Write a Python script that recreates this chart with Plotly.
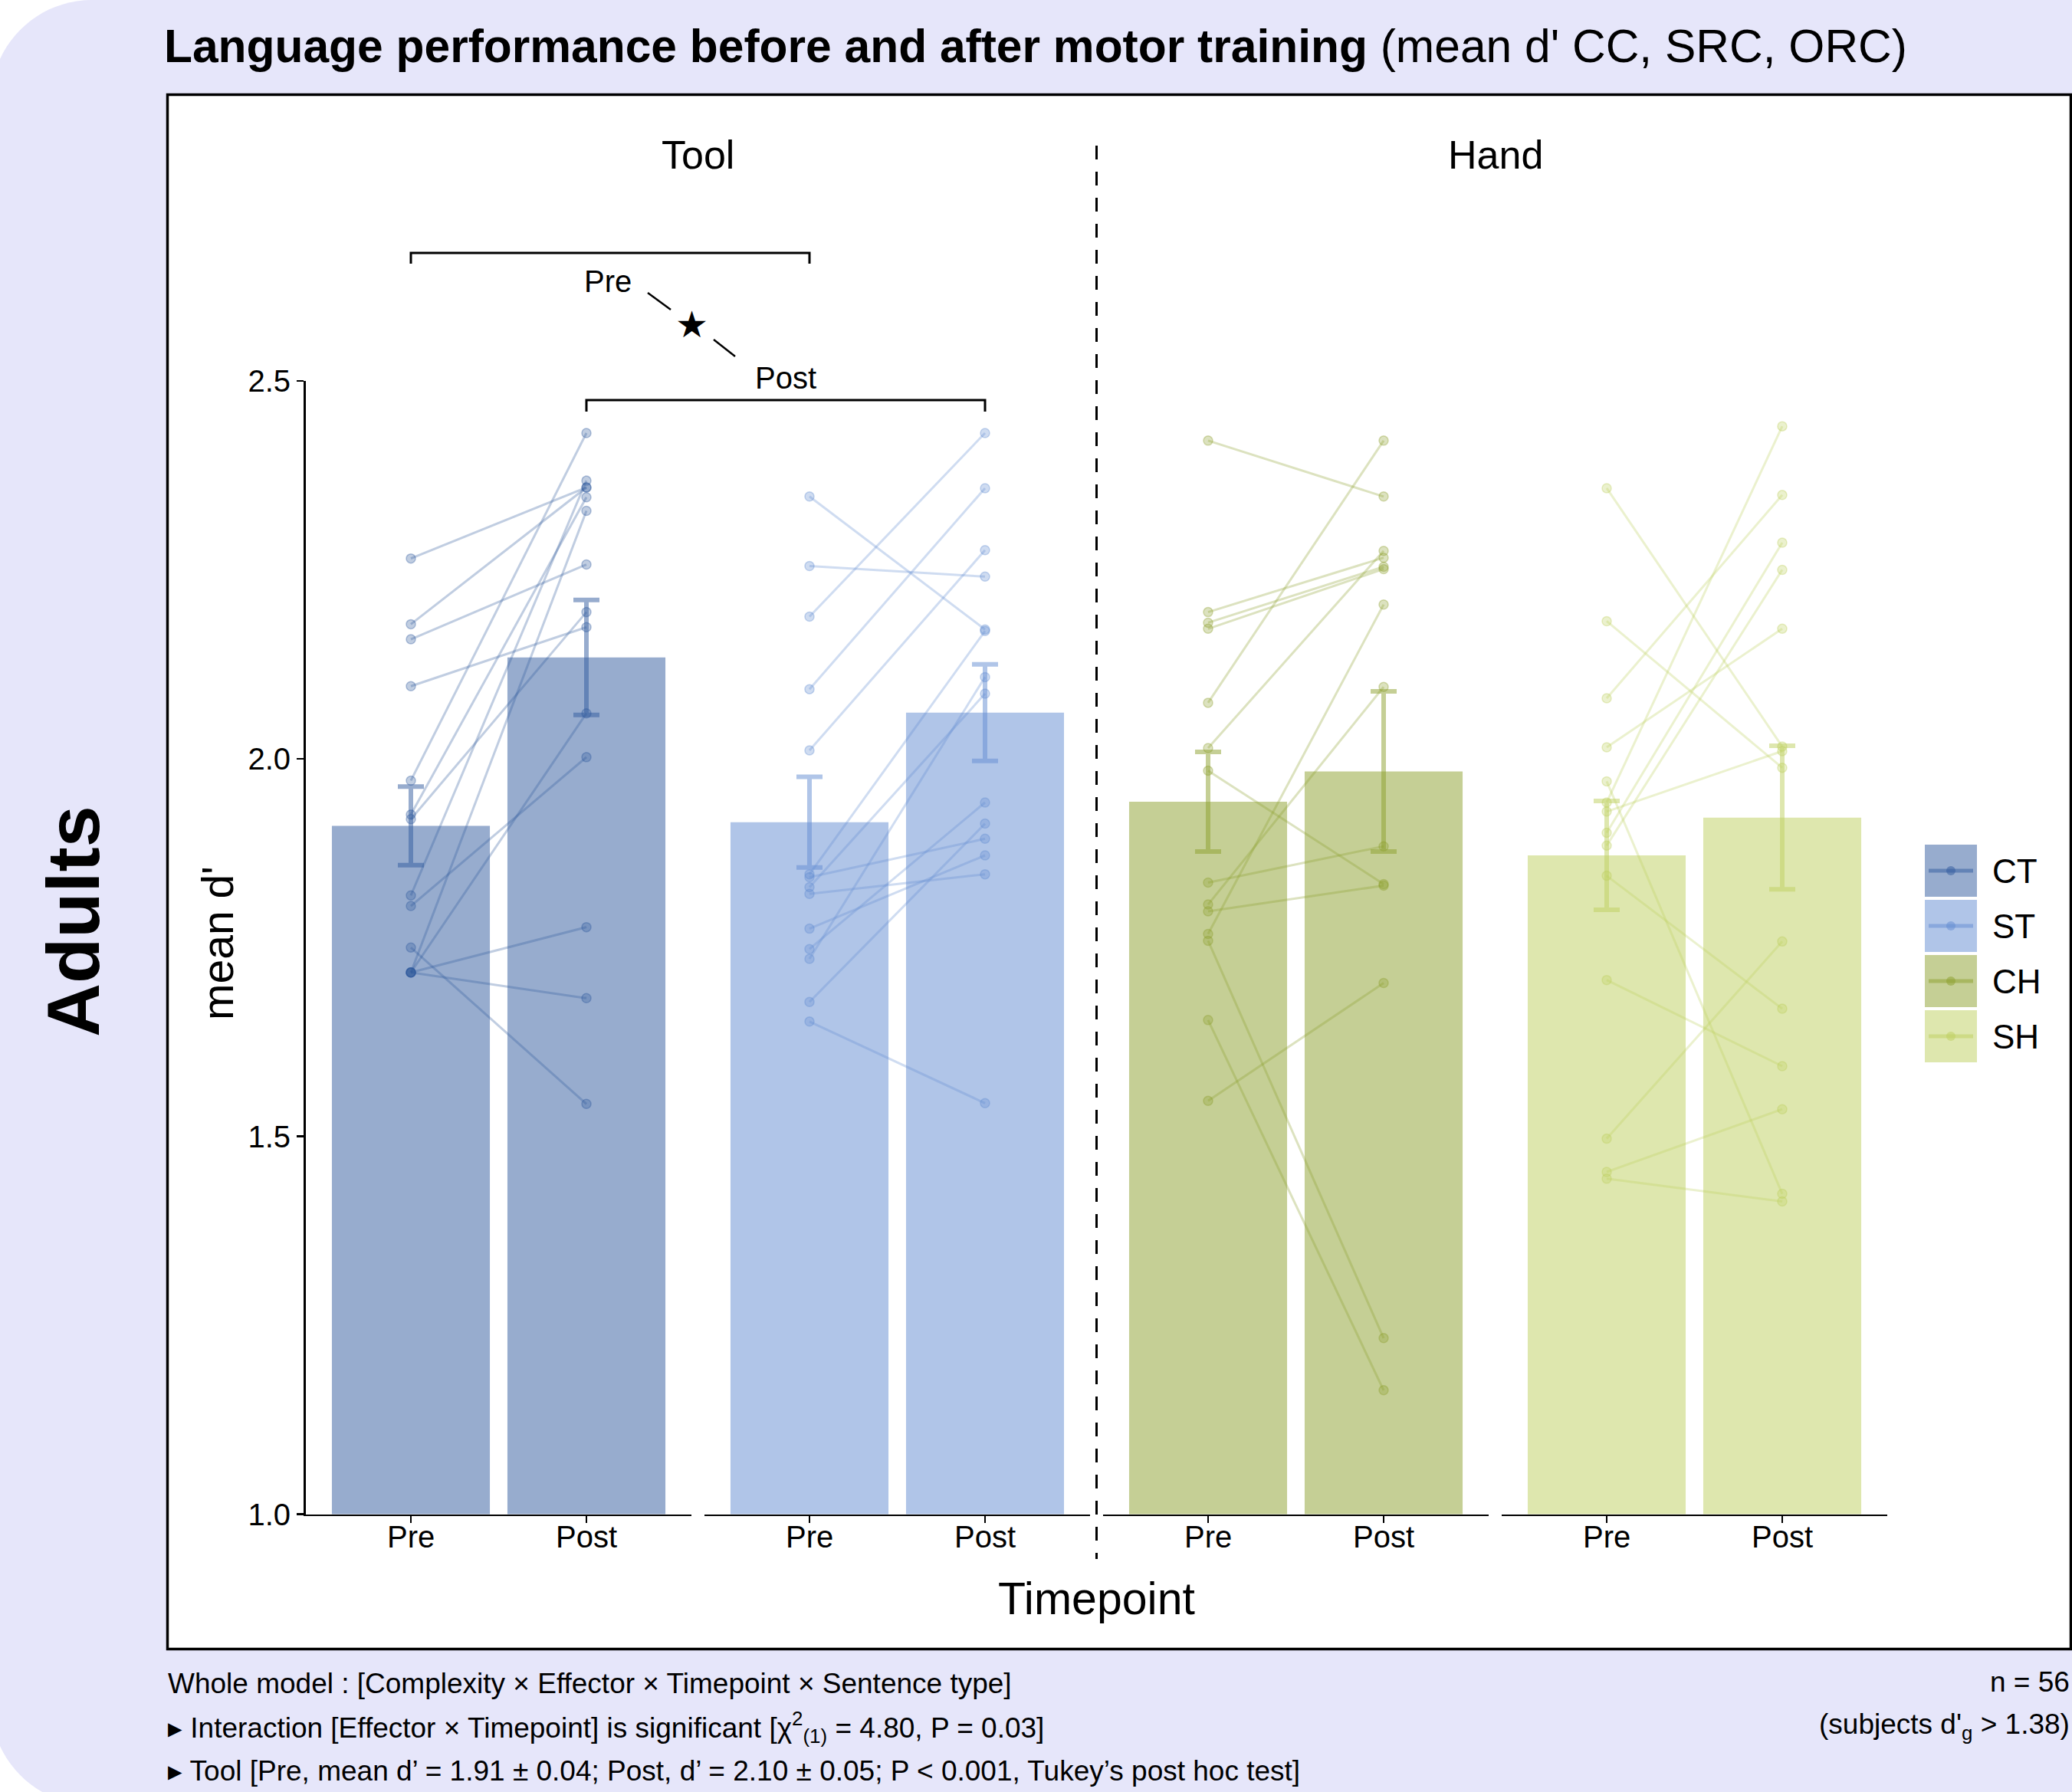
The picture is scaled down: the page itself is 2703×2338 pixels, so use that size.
import plotly.graph_objects as go

W, H = 2703, 2338
FONT = "Liberation Sans, Arial, sans-serif"

# ---------------- data ----------------
group_names = ["CT", "ST", "CH", "SH"]
timepoints = ["Pre", "Post"]
effector_labels = ["Tool", "Hand"]

# individual subjects (pre value, post value paired by index)
ct_pre = [2.265, 2.178, 2.158, 2.096, 1.971, 1.926, 1.920, 1.819, 1.805, 1.750, 1.717, 1.717, 1.717, 1.717]
ct_post = [2.359, 2.359, 2.257, 2.174, 2.431, 2.346, 2.194, 2.368, 2.002, 1.543, 2.328, 2.060, 1.777, 1.683]
st_pre = [2.347, 2.255, 2.188, 2.092, 2.011, 1.847, 1.843, 1.830, 1.821, 1.775, 1.748, 1.735, 1.678, 1.652]
st_post = [2.171, 2.241, 2.431, 2.358, 2.276, 2.169, 1.894, 2.086, 1.847, 1.872, 1.942, 2.108, 1.914, 1.544]
ch_pre = [2.421, 2.074, 2.194, 2.180, 2.172, 2.014, 1.984, 1.836, 1.807, 1.798, 1.768, 1.759, 1.654, 1.547]
ch_post = [2.347, 2.421, 2.266, 2.254, 2.251, 2.275, 1.834, 1.884, 2.095, 1.832, 2.204, 1.233, 1.164, 1.703]
sh_pre = [2.358, 2.182, 2.080, 2.015, 1.970, 1.942, 1.930, 1.902, 1.885, 1.845, 1.707, 1.497, 1.453, 1.444]
sh_post = [2.016, 1.988, 2.349, 2.172, 1.424, 2.440, 2.010, 2.286, 2.250, 1.669, 1.593, 1.758, 1.536, 1.414]

pre_values = [ct_pre, st_pre, ch_pre, sh_pre]
post_values = [ct_post, st_post, ch_post, sh_post]

mean_pre = [1.911, 1.916, 1.943, 1.872]
mean_post = [2.134, 2.061, 1.983, 1.922]
se_pre = [0.052, 0.060, 0.066, 0.072]
se_post = [0.076, 0.064, 0.106, 0.095]

y_tick_vals = [1.0, 1.5, 2.0, 2.5]
y_tick_text = ["1.0", "1.5", "2.0", "2.5"]

# ---------------- style ----------------
base_rgb = [(47, 89, 157), (97, 139, 209), (139, 159, 43), (189, 207, 93)]
bar_colors = ["rgb(151,172,206)", "rgb(176,197,232)", "rgb(197,207,149)", "rgb(222,231,174)"]


def rgba(k, a):
    r, g, b = base_rgb[k]
    return f"rgba({r},{g},{b},{a})"


# ---------------- geometry (pixels) ----------------
FACET_L0 = 398.6
FACET_STEP = 520.0
FACET_W = 503.8
Y1_PX = 1975.5   # y = 1.0
Y25_PX = 497.0   # y = 2.5
YMIN, YMAX = 1.0, 2.5
XMIN, XMAX = 0.4, 2.6
X_CATS = [1, 2]


def px_x(px):
    return px / W


def px_y(py):
    return 1 - py / H


def data_x_px(k, c):
    return FACET_L0 + k * FACET_STEP + (c - XMIN) / (XMAX - XMIN) * FACET_W


fig = go.Figure()

# ---------------- traces ----------------
for k in range(4):
    xa = "x" if k == 0 else f"x{k + 1}"
    fig.add_trace(go.Bar(
        x=X_CATS, y=[mean_pre[k], mean_post[k]], width=0.9,
        marker=dict(color=bar_colors[k], line=dict(width=0)),
        error_y=dict(type="data", array=[se_pre[k], se_post[k]], color=rgba(k, 0.5),
                     thickness=6, width=17),
        xaxis=xa, yaxis="y", showlegend=False, hoverinfo="skip"))
    for a, b in zip(pre_values[k], post_values[k]):
        fig.add_trace(go.Scatter(
            x=X_CATS, y=[a, b], mode="lines+markers",
            line=dict(color=rgba(k, 0.3), width=3),
            marker=dict(size=12, color=rgba(k, 0.3), line=dict(width=1.5, color=rgba(k, 0.35))),
            xaxis=xa, yaxis="y", showlegend=False, hoverinfo="skip"))

# ---------------- axes ----------------
axes = {}
for k in range(4):
    name = "xaxis" if k == 0 else f"xaxis{k + 1}"
    left = FACET_L0 + k * FACET_STEP
    axes[name] = dict(
        domain=[left / W, (left + FACET_W) / W], range=[XMIN, XMAX],
        tickmode="array", tickvals=X_CATS, ticktext=timepoints, showticklabels=False,
        ticks="outside", ticklen=9, tickwidth=2.5, tickcolor="black",
        showline=True, linecolor="black", linewidth=2.5,
        showgrid=False, zeroline=False, anchor="y", fixedrange=True, automargin=False)
axes["yaxis"] = dict(
    domain=[px_y(Y1_PX), px_y(Y25_PX)], range=[YMIN, YMAX],
    tickmode="array", tickvals=y_tick_vals, ticktext=y_tick_text,
    ticks="outside", ticklen=9, tickwidth=2.5, tickcolor="black",
    showline=True, linecolor="black", linewidth=2.5,
    showgrid=False, zeroline=False, anchor="x", fixedrange=True, automargin=False,
    tickfont=dict(size=40, color="black", family=FONT))

# ---------------- shapes ----------------
shapes = []

# lavender rounded background
L, R_, T, B, r = -12, W + 60, 0, 2355, 132
kk = 0.5523
pts = [
    ("M", [(L, T + r)]),
    ("C", [(L, T + r - kk * r), (L + r - kk * r, T), (L + r, T)]),
    ("L", [(R_, T)]),
    ("L", [(R_, B)]),
    ("L", [(L + r, B)]),
    ("C", [(L + r - kk * r, B), (L, B - r + kk * r), (L, B - r)]),
]
path = ""
for cmd, plist in pts:
    path += cmd + " ".join(f"{px_x(x):.6f},{px_y(y):.6f}" for x, y in plist) + " "
path += "Z"
shapes.append(dict(type="path", path=path, xref="paper", yref="paper",
                   fillcolor="rgb(230,230,250)", line=dict(width=0), layer="below"))

# white panel with black border
shapes.append(dict(type="rect", xref="paper", yref="paper",
                   x0=px_x(218.5), x1=px_x(2701.5), y0=px_y(123.5), y1=px_y(2151.5),
                   fillcolor="white", line=dict(color="black", width=3.5), layer="below"))

# dashed separator between Tool and Hand
sep_x = (data_x_px(1, XMAX) + data_x_px(2, XMIN)) / 2
shapes.append(dict(type="line", xref="paper", yref="paper",
                   x0=px_x(sep_x), x1=px_x(sep_x), y0=px_y(190), y1=px_y(2034),
                   line=dict(color="black", width=3, dash="18px,16px")))


# significance brackets
def bracket(xa_px, xb_px, ytop, ybot):
    return dict(type="path", xref="paper", yref="paper",
                path=(f"M{px_x(xa_px):.6f},{px_y(ybot):.6f} L{px_x(xa_px):.6f},{px_y(ytop):.6f} "
                      f"L{px_x(xb_px):.6f},{px_y(ytop):.6f} L{px_x(xb_px):.6f},{px_y(ybot):.6f}"),
                line=dict(color="black", width=3))


shapes.append(bracket(data_x_px(0, 1), data_x_px(1, 1), 330, 344))
shapes.append(bracket(data_x_px(0, 2), data_x_px(1, 2), 522, 537))
for (x0, y0, x1, y1) in [(845, 382, 875, 404), (931, 443, 959, 465)]:
    shapes.append(dict(type="line", xref="paper", yref="paper",
                       x0=px_x(x0), y0=px_y(y0), x1=px_x(x1), y1=px_y(y1),
                       line=dict(color="black", width=2.5)))

# legend keys
LEG_X0, LEG_X1 = 2511, 2579
LEG_Y0, LEG_H, LEG_STEP = 1102, 68, 72
for i in range(4):
    y0 = LEG_Y0 + i * LEG_STEP
    ym = y0 + LEG_H / 2
    shapes.append(dict(type="rect", xref="paper", yref="paper",
                       x0=px_x(LEG_X0), x1=px_x(LEG_X1), y0=px_y(y0), y1=px_y(y0 + LEG_H),
                       fillcolor=bar_colors[i], line=dict(width=0)))
    shapes.append(dict(type="line", xref="paper", yref="paper",
                       x0=px_x(LEG_X0 + 5), x1=px_x(LEG_X1 - 5), y0=px_y(ym), y1=px_y(ym),
                       line=dict(color=rgba(i, 0.5), width=5)))
    xm = (LEG_X0 + LEG_X1) / 2
    shapes.append(dict(type="circle", xref="paper", yref="paper",
                       x0=px_x(xm - 6), x1=px_x(xm + 6), y0=px_y(ym - 6), y1=px_y(ym + 6),
                       fillcolor=rgba(i, 0.5), line=dict(width=0)))

# ---------------- annotations ----------------
ann = []


def text(x, y, s, size, xanchor="center", angle=0, color="black"):
    ann.append(dict(x=px_x(x), y=px_y(y), xref="paper", yref="paper", text=s,
                    showarrow=False, xanchor=xanchor, yanchor="middle", textangle=angle,
                    font=dict(size=size, color=color, family=FONT)))


# x tick labels (per facet)
for k in range(4):
    for c, lab in zip(X_CATS, timepoints):
        text(data_x_px(k, c), 2005, lab, 40)

text(212, 60, "<b>Language performance before and after motor training</b> (mean d' CC, SRC, ORC)",
     60.5, xanchor="left")
text((data_x_px(0, XMIN) + data_x_px(1, XMAX)) / 2, 202, effector_labels[0], 52)
text((data_x_px(2, XMIN) + data_x_px(3, XMAX)) / 2, 202, effector_labels[1], 52)
text((data_x_px(0, XMIN) + data_x_px(3, XMAX)) / 2, 2086, "Timepoint", 59)
text(284, 1231, "mean d'", 57, angle=-90)
text(95, 1202, "<b>Adults</b>", 97, angle=-90)

text(793, 367, "Pre", 40)
text(1025, 493, "Post", 40)
text(902, 423, "★", 48)

for i in range(4):
    text(2597, LEG_Y0 + i * LEG_STEP + LEG_H / 2, group_names[i], 44, xanchor="left")

text(217, 2196, "Whole model : [Complexity × Effector × Timepoint × Sentence type]", 37, xanchor="left")
text(217, 2253, "▸ Interaction [Effector × Timepoint] is significant "
                "[χ<sup>2</sup><sub>(1)</sub> = 4.80, P = 0.03]", 37, xanchor="left")
text(217, 2310, "▸ Tool [Pre, mean d’ = 1.91 ± 0.04; Post, d’ = 2.10 ± 0.05; "
                "P < 0.001, Tukey’s post hoc test]", 37, xanchor="left")
text(2702, 2194, "n = 56", 37, xanchor="right")
text(2702, 2252, "(subjects d'<sub>g</sub> > 1.38)", 37, xanchor="right")

fig.update_layout(
    width=W, height=H, margin=dict(l=0, r=0, t=0, b=0, pad=0),
    paper_bgcolor="white", plot_bgcolor="rgba(0,0,0,0)",
    showlegend=False, barmode="overlay",
    shapes=shapes, annotations=ann,
    font=dict(family=FONT, color="black"),
    **axes)

post = ("var gd=document.getElementById('{plot_id}');"
        "document.documentElement.style.margin='0';document.documentElement.style.padding='0';"
        "document.body.style.margin='0';document.body.style.padding='0';"
        "document.documentElement.style.overflow='hidden';document.body.style.overflow='hidden';"
        "gd.style.position='absolute';gd.style.left='0px';gd.style.top='0px';")

fig.write_html("out.html", post_script=post, config={"displayModeBar": False, "staticPlot": True})
